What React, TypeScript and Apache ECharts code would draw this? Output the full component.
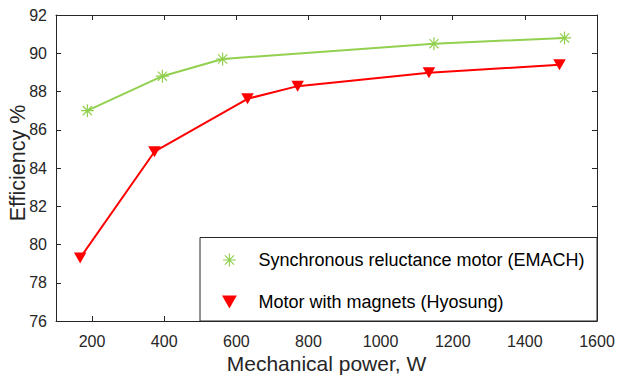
import React, { useEffect, useRef } from "react";
import * as echarts from "echarts";

const syncPower = [187, 395, 562, 1148, 1510];
const syncEff = [87.0, 88.8, 89.7, 90.5, 90.8];
const magPower = [167, 373, 631, 770, 1134, 1496];
const magEff = [79.3, 84.85, 87.62, 88.28, 88.98, 89.4];
const xTicks = [200, 400, 600, 800, 1000, 1200, 1400, 1600];
const syncName = "Synchronous reluctance motor (EMACH)";
const magName = "Motor with magnets (Hyosung)";

const GREEN = "#92d050";
const RED = "#ff0000";
const AXIS = "#262626";
const FONT = "'Liberation Sans', Arial, sans-serif";

const ASTERISK =
  "path://M6 0 L6 12 M0 6 L12 6 M1.76 1.76 L10.24 10.24 M1.76 10.24 L10.24 1.76";
const TRIANGLE_DOWN = "path://M0 0 L12 0 L6 10.5 Z";

export default function App() {
  const ref = useRef<HTMLDivElement>(null);
  useEffect(() => {
    if (!ref.current) return;
    document.body.style.margin = "0";
    const chart = echarts.init(ref.current, null, { renderer: "svg" });
    const axisLine = { show: true, lineStyle: { color: AXIS, width: 1 } };
    const ticks = { show: true, inside: true, length: 5, lineStyle: { color: AXIS, width: 1 } };
    chart.setOption({
      animation: false,
      backgroundColor: "#ffffff",
      grid: {
        left: 56,
        top: 15,
        right: 23,
        bottom: 54,
        containLabel: false,
        outerBoundsMode: "none",
      },
      xAxis: [
        {
          type: "value",
          min: 100,
          max: 1600,
          position: "bottom",
          axisLine,
          axisTick: { ...ticks, customValues: xTicks },
          splitLine: { show: false },
          axisLabel: {
            customValues: xTicks,
            formatter: (v: number) => String(v),
            color: AXIS,
            fontSize: 16,
            fontFamily: FONT,
            margin: 12,
          },
          name: "Mechanical power, W",
          nameLocation: "middle",
          nameGap: 32,
          nameMoveOverlap: false,
          nameTextStyle: {
            color: AXIS,
            fontSize: 21,
            lineHeight: 21,
            fontFamily: FONT,
            verticalAlign: "top",
          },
        },
        {
          type: "value",
          min: 100,
          max: 1600,
          position: "top",
          axisLine,
          axisTick: { ...ticks, customValues: xTicks },
          splitLine: { show: false },
          axisLabel: { show: false },
        },
      ],
      yAxis: [
        {
          type: "value",
          min: 76,
          max: 92,
          interval: 2,
          position: "left",
          axisLine,
          axisTick: ticks,
          splitLine: { show: false },
          axisLabel: { color: AXIS, fontSize: 16, fontFamily: FONT, margin: 9 },
          name: "Efficiency %",
          nameLocation: "middle",
          nameGap: 27,
          nameMoveOverlap: false,
          nameTextStyle: {
            color: AXIS,
            fontSize: 21.5,
            fontFamily: FONT,
            padding: [0, 0, 0, 10],
          },
        },
        {
          type: "value",
          min: 76,
          max: 92,
          interval: 2,
          position: "right",
          axisLine,
          axisTick: ticks,
          splitLine: { show: false },
          axisLabel: { show: false },
        },
      ],
      legend: {
        orient: "vertical",
        left: 222,
        top: 251,
        itemWidth: 48,
        itemHeight: 13,
        itemGap: 24,
        padding: 0,
        z: 5,
        symbolKeepAspect: true,
        textStyle: { color: "#000000", fontSize: 18, fontFamily: FONT, lineHeight: 13 },
        data: [
          {
            name: syncName,
            icon: ASTERISK,
            itemStyle: { color: "rgba(0,0,0,0)", borderColor: GREEN, borderWidth: 1.2 },
          },
          {
            name: magName,
            icon: TRIANGLE_DOWN,
            itemStyle: { color: RED, borderColor: RED, borderWidth: 0 },
          },
        ],
      },
      graphic: [
        {
          type: "rect",
          z: 1,
          shape: { x: 200, y: 237.5, width: 397, height: 83.5 },
          style: { fill: "#ffffff", stroke: AXIS, lineWidth: 1 },
        },
      ],
      series: [
        {
          name: syncName,
          type: "line",
          data: syncPower.map((p, i) => [p, syncEff[i]]),
          symbol: ASTERISK,
          symbolSize: 13,
          showAllSymbol: true,
          lineStyle: { color: GREEN, width: 2 },
          itemStyle: { color: "rgba(0,0,0,0)", borderColor: GREEN, borderWidth: 1.2 },
          z: 3,
        },
        {
          name: magName,
          type: "line",
          data: magPower.map((p, i) => [p, magEff[i]]),
          symbol: TRIANGLE_DOWN,
          symbolSize: [12.5, 11],
          showAllSymbol: true,
          lineStyle: { color: RED, width: 2 },
          itemStyle: { color: RED, borderWidth: 0 },
          z: 3,
        },
      ],
    });
    return () => chart.dispose();
  }, []);
  return <div ref={ref} style={{ width: 620, height: 375 }} />;
}
